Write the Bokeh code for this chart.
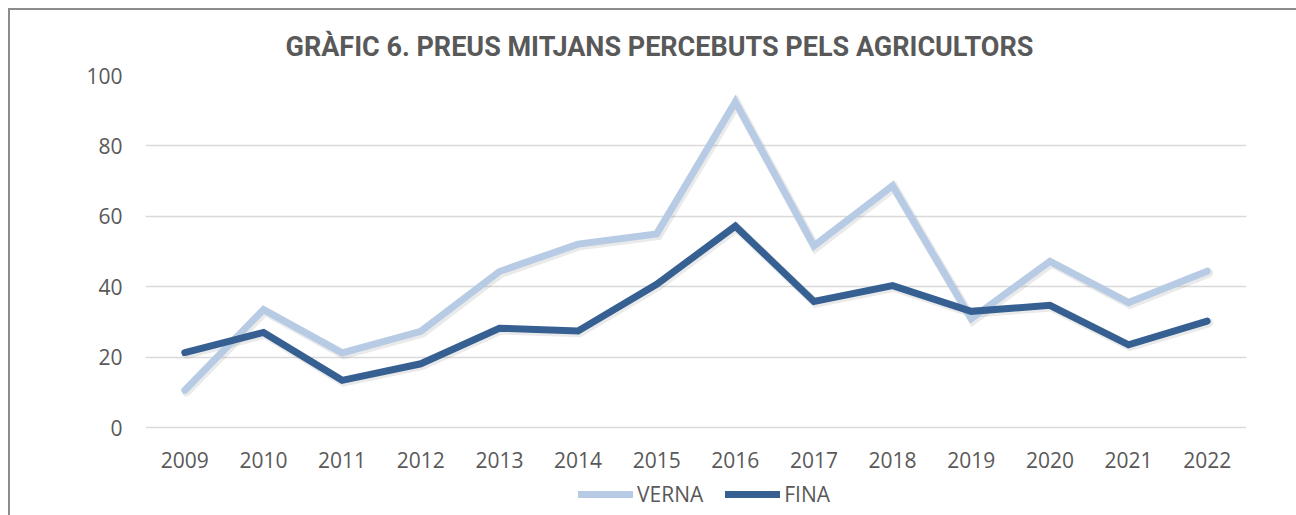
from bokeh.plotting import figure
from bokeh.models import FactorRange, Range1d, Legend, LegendItem, FixedTicker, ColumnDataSource
from bokeh.core.properties import value
from bokeh.transform import dodge
from bokeh.embed import file_html
from bokeh.resources import INLINE

years = ["2009", "2010", "2011", "2012", "2013", "2014", "2015",
         "2016", "2017", "2018", "2019", "2020", "2021", "2022"]
verna = [10.6, 33.5, 21.2, 27.3, 44.3, 52.1, 55.0, 92.5, 51.6, 68.7, 30.9, 47.2, 35.5, 44.4]
fina = [21.3, 27.0, 13.4, 18.1, 28.2, 27.4, 40.7, 57.2, 35.8, 40.3, 33.0, 34.7, 23.5, 30.2]
y_ticks = [0, 20, 40, 60, 80, 100]

title = "GRÀFIC 6. PREUS MITJANS PERCEBUTS PELS AGRICULTORS"

src = ColumnDataSource(dict(year=years, verna=verna, fina=fina))

# frame runs to the bottom edge so the legend (drawn inside it) is not clipped;
# the value axis still starts at 0 (gridlines/ticks only 0..100)
p = figure(width=1296, height=515, x_range=FactorRange(*years, range_padding=0),
           y_range=Range1d(-25, 100), output_backend="svg", toolbar_location=None,
           title=title, min_border_left=145, min_border_right=50,
           min_border_top=75, min_border_bottom=0)
p.styles = {
    "background": "linear-gradient(#8c8c8c, #8c8c8c) 8px 8px / 100% 2px no-repeat, "
                  "linear-gradient(#8c8c8c, #8c8c8c) 8px 8px / 2px 100% no-repeat, white"
}

p.title.align = "left"
p.title.text_font = "Roboto"
p.title.text_font_size = "27px"
p.title.text_font_style = "bold"
p.title.text_color = "#595959"
p.title.offset = 140
p.title.standoff = 25

p.outline_line_color = None
p.background_fill_color = "white"
p.border_fill_alpha = 0

p.xgrid.grid_line_color = None
p.ygrid.grid_line_color = "#D9D9D9"
p.ygrid.grid_line_width = 1.6
p.yaxis.ticker = FixedTicker(ticks=y_ticks)

p.xaxis.visible = False
ax = p.yaxis
ax.axis_line_color = None
ax.major_tick_line_color = None
ax.minor_tick_line_color = None
ax.major_tick_out = 0
ax.major_tick_in = 0
ax.axis_label_standoff = 0
ax.major_label_text_font = "Open Sans"
ax.major_label_text_font_size = "21px"
ax.major_label_text_color = "#595959"
ax.major_label_standoff = 23

# category labels under the zero line
p.text(x="year", y=0, text="year", source=src, y_offset=32,
       text_font=value("Open Sans"), text_font_size="21px", text_color="#595959",
       text_align="center", text_baseline="middle")

# soft drop shadows under the lines
for col in ("verna", "fina"):
    p.line(x=dodge("year", 0.02, range=p.x_range), y=dodge(col, -0.5), source=src,
           line_color="#7f7f7f", line_alpha=0.16, line_width=9,
           line_join="miter", line_cap="round")

r1 = p.line(x="year", y="verna", source=src, line_color="#B7CCE4", line_width=7,
            line_join="miter", line_cap="round")
r2 = p.line(x="year", y="fina", source=src, line_color="#366092", line_width=7,
            line_join="miter", line_cap="round")

legend = Legend(items=[LegendItem(label="VERNA", renderers=[r1]),
                       LegendItem(label="FINA", renderers=[r2])],
                orientation="horizontal", location=(433, 7),
                glyph_width=55, label_standoff=4, spacing=22,
                padding=0, margin=0,
                border_line_color=None, background_fill_alpha=0,
                label_text_font="Open Sans", label_text_font_size="21px",
                label_text_color="#595959")
p.add_layout(legend, "center")

open("out.html", "w").write(file_html(p, INLINE))
